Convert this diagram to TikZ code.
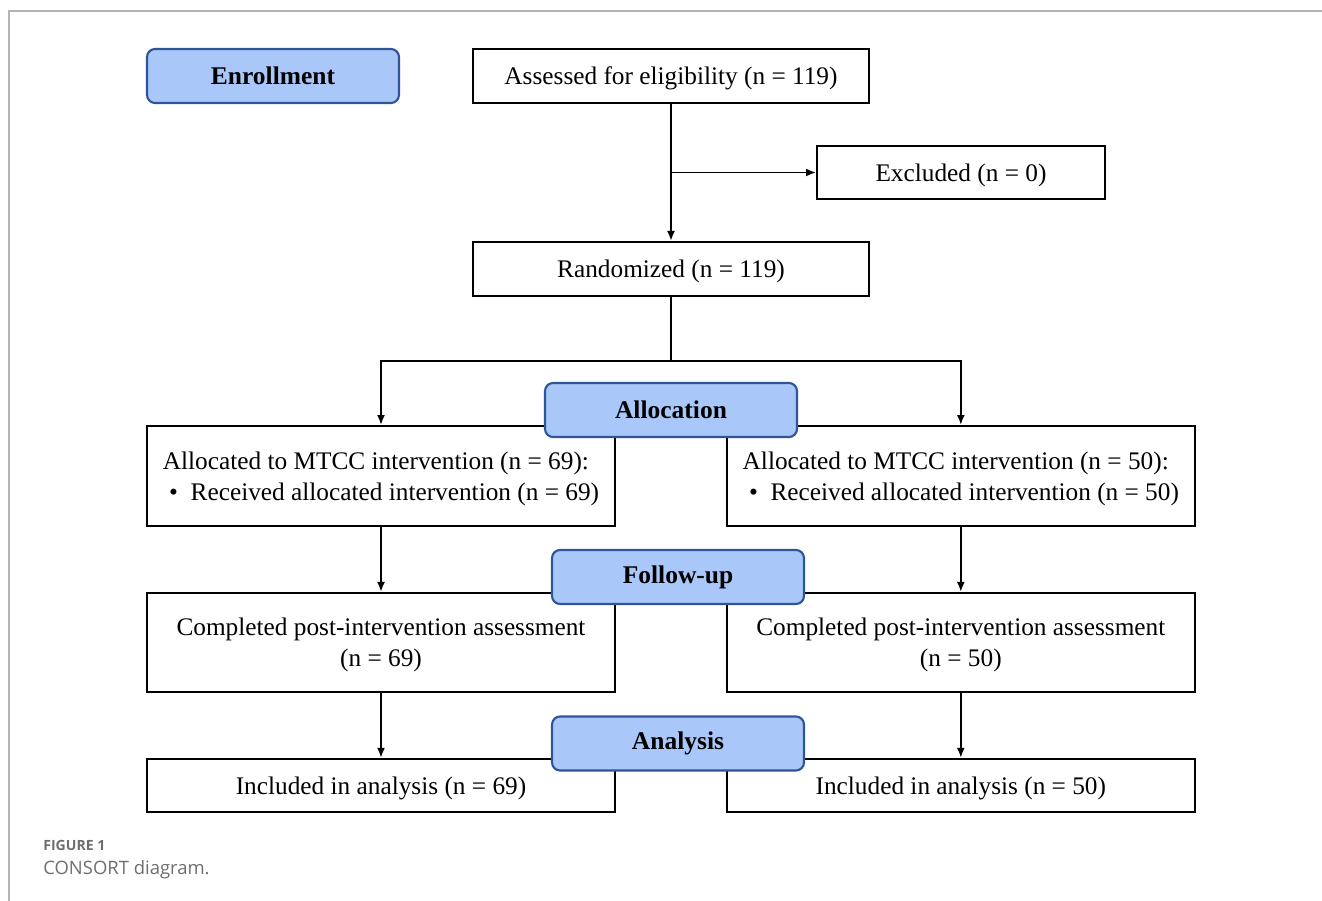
\documentclass[tikz,border=0pt]{standalone}
\usepackage{fontspec}
\setmainfont{Liberation Serif}
\newfontfamily\capfont{Open Sans}
\usetikzlibrary{positioning,arrows.meta}
\definecolor{phasefill}{HTML}{A9C8F9}
\definecolor{phaseline}{HTML}{2F5597}
\definecolor{framegray}{HTML}{B4B4B4}
\definecolor{capgray}{HTML}{6E6E6E}

\begin{document}
\begin{tikzpicture}[x=0.02cm, y=-0.02cm, >={Latex[length=2mm,width=1.6mm]},
    box/.style={draw,
        line width=1.1pt,
        minimum height=1.08cm,
        inner sep=0pt,
        text depth=0pt,
        font=\fontsize{14.4}{17.5}\selectfont
    },
    phase/.style={draw=phaseline,
        fill=phasefill,
        rounded corners=0.16cm,
        line width=1.2pt,
        minimum width=5.04cm,
        minimum height=1.08cm,
        font=\fontsize{14.5}{16}\selectfont\bfseries
    },
    link/.style={line width=1.1pt}
]
    \useasboundingbox (0,0) rectangle (1322,901);
    \draw[framegray, line width=1pt] (9,901) -- (9,11) -- (1322,11);

    % enrollment
    \node [box,
        minimum width=7.92cm
    ]  (Assessed) at (671,76) {Assessed for eligibility (n = 119)};
    \node [box,
        minimum width=5.76cm,
        minimum height=1.06cm
    ]  (Excluded) at (961,172.5) {Excluded (n = 0)};
    \node [box,
        minimum width=7.92cm,
        below=2.74cm of Assessed
    ]  (Randomized) {Randomized (n = 119)};

    % allocation
    \node [box,
        minimum width=9.36cm,
        minimum height=2cm,
        align=left
    ]  (AllocA) at (381,476) {Allocated to MTCC intervention (n = 69):\\
        \ \textbullet\ \ Received allocated intervention (n = 69)};
    \node [box,
        minimum width=9.36cm,
        minimum height=2cm,
        align=left,
        right=2.2cm of AllocA
    ]  (AllocB) {Allocated to MTCC intervention (n = 50):\\
        \ \textbullet\ \ Received allocated intervention (n = 50)};

    % follow-up
    \node [box,
        minimum width=9.36cm,
        minimum height=1.98cm,
        align=center,
        below=1.3cm of AllocA
    ]  (CompletedA) {Completed post-intervention assessment\\(n = 69)};
    \node [box,
        minimum width=9.36cm,
        minimum height=1.98cm,
        align=center,
        below=1.3cm of AllocB
    ]  (CompletedB) {Completed post-intervention assessment\\(n = 50)};

    % analysis
    \node [box,
        minimum width=9.36cm,
        minimum height=1.06cm,
        below=1.3cm of CompletedA
    ]  (IncludedA) {Included in analysis (n = 69)};
    \node [box,
        minimum width=9.36cm,
        minimum height=1.06cm,
        below=1.3cm of CompletedB
    ]  (IncludedB) {Included in analysis (n = 50)};

    % connectors
    \coordinate (Split) at (671,361);
    \draw[link,->] (Assessed) -- (Randomized);
    \draw[link,->] (Assessed.south |- Excluded.west) -- (Excluded.west);
    \draw[link] (Randomized) -- (Split);
    \draw[link,->] (Split) -| (AllocA.north);
    \draw[link,->] (Split) -| (AllocB.north);
    \draw[link,->] (AllocA) -- (CompletedA);
    \draw[link,->] (AllocB) -- (CompletedB);
    \draw[link,->] (CompletedA) -- (IncludedA);
    \draw[link,->] (CompletedB) -- (IncludedB);

    % phase labels
    \node [phase] (Enrollment) at (273,76) {Enrollment};
    \node [phase] (Allocation) at (671,410) {Allocation};
    \node [phase] (FollowUp) at (678,577) {Follow-up};
    \node [phase] (Analysis) at (678,743.5) {Analysis};

    % caption
    \node [anchor=west, inner sep=0pt, text=capgray,
        font=\capfont\fontsize{8}{10}\selectfont\bfseries
    ]  (FigLabel) at (43,845) {FIGURE 1};
    \node [anchor=west, inner sep=0pt, text=capgray,
        font=\capfont\fontsize{10.5}{12}\selectfont
    ]  (FigCaption) at (43,870) {CONSORT diagram.};
\end{tikzpicture}
\end{document}
